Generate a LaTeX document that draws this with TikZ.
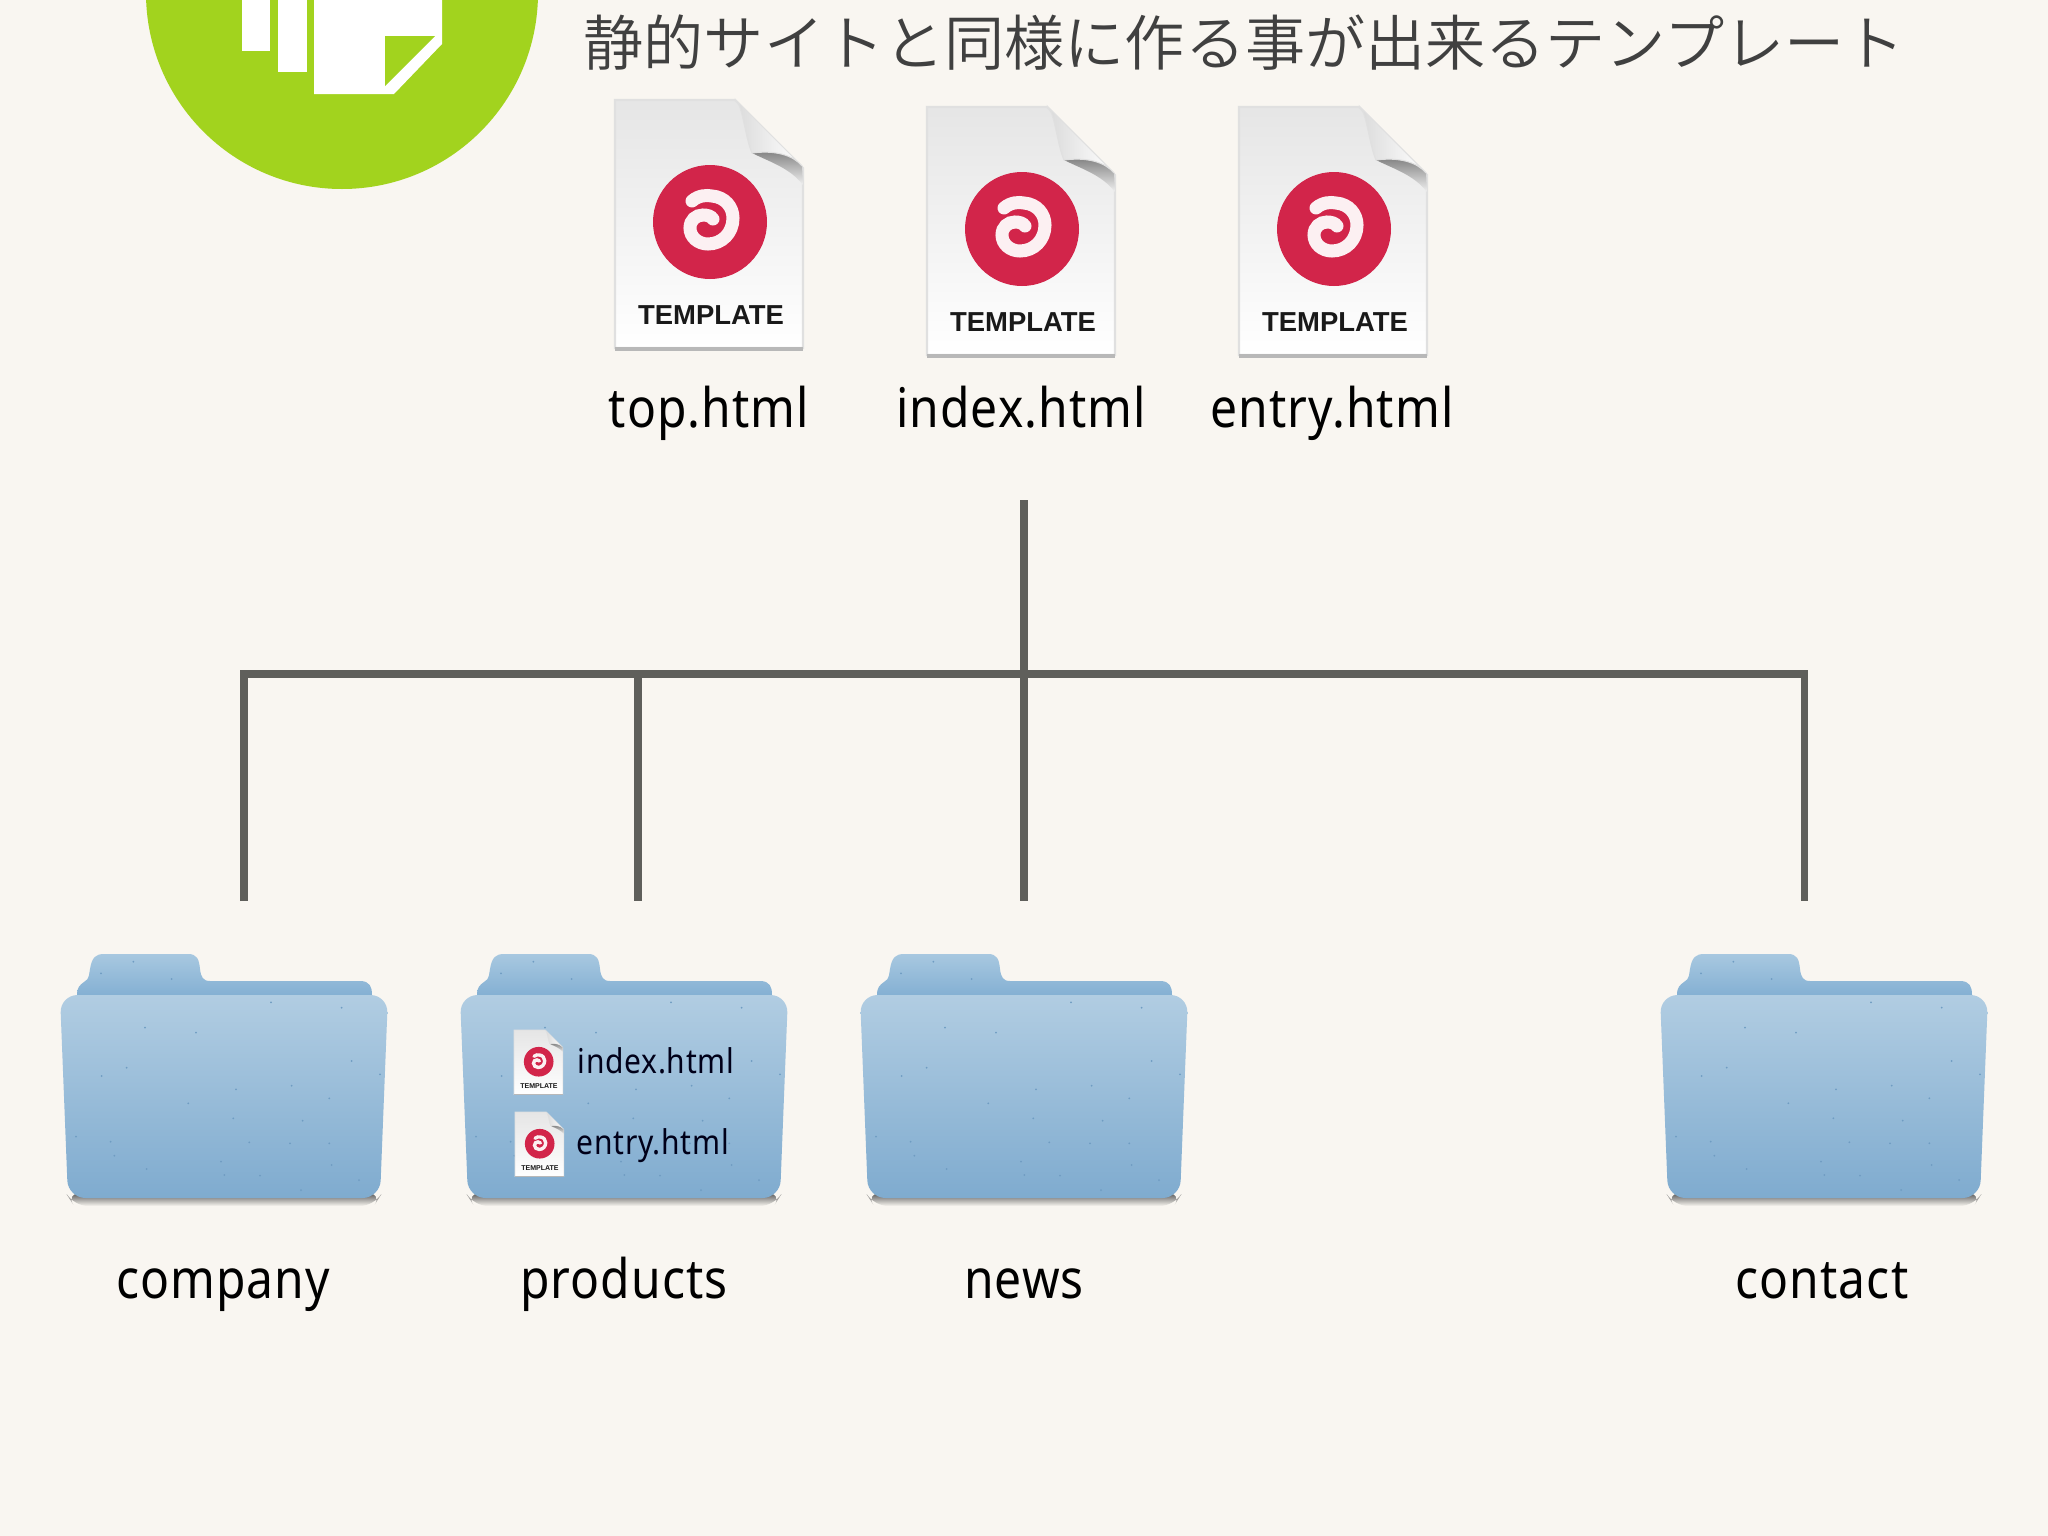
\documentclass[tikz,border=0pt]{standalone}
\usepackage{fontspec}
\usepackage{tikz}
\newfontfamily\jpfont{Noto Sans CJK JP DemiLight}
\newfontfamily\capfont{Liberation Sans}
\setmainfont{Noto Sans}[FakeStretch=0.88,LetterSpace=2]
\definecolor{paper}{HTML}{F9F6F1}
\definecolor{leaf}{HTML}{A2D31E}
\definecolor{bar}{HTML}{5F5F5B}
\definecolor{caprd}{HTML}{D2254A}
\definecolor{folderback}{HTML}{A8C8E0}
\definecolor{folderbacklow}{HTML}{84B0D3}
\definecolor{foldertop}{HTML}{B1CDE2}
\definecolor{foldermid}{HTML}{A6C6DE}
\definecolor{folderlow}{HTML}{7FABCF}
\definecolor{folderdot}{HTML}{6F9CC2}
\def\backpiece{(17,0) .. controls (17,-8) and (20,-10) .. (24,-13) .. controls (30,-16) and (29,-22) .. (30,-26) .. controls (32,-38) and (36,-41) .. (44,-41) -- (128,-41) .. controls (137,-41) and (139,-36) .. (140,-26) .. controls (141,-18) and (143,-14) .. (150,-14) -- (300,-14) .. controls (310,-14) and (312,-8) .. (312,0) -- cycle}
\def\frontpiece{(0,0) -- (328,0) -- (320,203) -- (8,203) -- cycle}
\def\pagepiece{(0,0) -- (120,0) -- (188,68) -- (188,248) -- (0,248) -- cycle}
\def\flappiece{(122,1) .. controls (128,10) and (131,40) .. (137,53) .. controls (160,50) and (178,55) .. (187,66) -- cycle}
\def\dimpiece{(137,53) .. controls (160,50) and (178,55) .. (187,66) -- (188,85) .. controls (175,68) and (155,62) .. (137,53)}
\def\swirlpiece{(77,101) .. controls (84,95) and (92,95) .. (97,96) .. controls (110,97) and (118,107) .. (118,118) .. controls (118,133) and (107,144) .. (93,144) .. controls (83,144) and (75,137) .. (75,128) .. controls (75,120) and (81,115) .. (88,115) .. controls (92,115) and (96,116) .. (98,119)}
\tikzset{
    treeline/.style={draw=bar,line width=2pt,miter limit=10},
    htmllabel/.style={anchor=base,text=black,font=\fontsize{15.5}{18}\selectfont,inner sep=0pt},
    minilabel/.style={anchor=base west,text=black!90!blue,font=\fontsize{9.7}{14}\selectfont,inner sep=0pt},
}
\newcommand{\folderat}[2]{
    \begin{scope}[shift={(#2,995)}]
        \shade[rounded corners=4,top color=black!65,bottom color=paper] (6,198) -- (322,198) -- (314,211) -- (14,211) -- cycle;
        \shade[top color=folderback,bottom color=folderbacklow] \backpiece;
        \shade[rounded corners=5,top color=foldertop,middle color=foldermid,bottom color=folderlow] \frontpiece;
        \foreach \spotx/\spoty in {183/130,395/147,280/95,693/217,905/233,935/393,1020/433,468/308,315/293,185/438,445/520,260/413,588/478,755/467,868/505,580/565,788/572,108/620,212/635,628/637,750/640,868/640,543/695,553/735,660/737,875/705,957/750,783/780,223/677,320/717}
            \fill[folderdot] ({\spotx/3-20},{\spoty/3-65}) circle (1);
    \end{scope}
}
\newcommand{\fileat}[5]{
    \begin{scope}[shift={(#2,#3)},scale=#4]
        \shade[top color=black!10,bottom color=white,draw=black!12,line width=#4*.6pt] \pagepiece;
        \draw[black!28,line width=#4*.9pt] (0,249) -- (188,249);
        \shade[top color=black!50,bottom color=black!6] \dimpiece;
        \shade[left color=black!14,right color=white,draw=black!12,line width=#4*.3pt] \flappiece;
        \fill[caprd] (95,122) circle (57);
        \draw[white!93!caprd,line width=#4*3.7pt,line cap=round] \swirlpiece;
        \node[inner sep=0pt,text=black!90,font=\capfont\fontsize{#5}{#5}\selectfont\bfseries] (#1) at (96,215) {TEMPLATE};
    \end{scope}
}
\begin{document}
\begin{tikzpicture}[x=0.01cm,y=-0.01cm]
    \path[use as bounding box,fill=paper] (0,0) rectangle (2048,1536);
    \clip (0,0) rectangle (2048,1536);
    \fill[leaf] (342,-7) circle (196);
    \fill[white] (242,0) rectangle (270,51);
    \fill[white] (278,0) rectangle (307,72);
    \fill[white] (314,0) -- (442,0) -- (442,44) -- (394,94) -- (314,94) -- cycle;
    \fill[leaf] (385,36) -- (435,36) -- (385,86) -- cycle;
    \node[anchor=west,inner sep=0pt,text=black!75,font=\jpfont\fontsize{17.1}{20}\selectfont] (title) at (583,43) {静的サイトと同様に作る事が出来るテンプレート};
    \fileat{topfile}{615}{100}{1}{7.8}
    \fileat{indexfile}{927}{107}{1}{7.8}
    \fileat{entryfile}{1239}{107}{1}{7.8}
    \node[htmllabel] (toplabel) at (709,427) {top.html};
    \node[htmllabel] (indexlabel) at (1021,427) {index.html};
    \node[htmllabel] (entrylabel) at (1332,427) {entry.html};
    \coordinate (trunk) at (1024,500);
    \coordinate (hub) at (1024,674);
    \coordinate (companytop) at (244,674);
    \coordinate (companyend) at (244,901);
    \coordinate (productstop) at (638,674);
    \coordinate (productsend) at (638,901);
    \coordinate (newsend) at (1024,901);
    \coordinate (contacttop) at (1804,674);
    \coordinate (contactend) at (1804,901);
    \draw[treeline] (trunk) -- (hub) -- (newsend);
    \draw[treeline] (companyend) -- (companytop) -- (contacttop) -- (contactend);
    \draw[treeline] (productstop) -- (productsend);
    \folderat{company}{60}
    \folderat{products}{460}
    \folderat{news}{860}
    \folderat{contact}{1660}
    \fileat{indexmini}{514}{1030}{.26}{2}
    \fileat{entrymini}{515}{1112}{.26}{2}
    \node[minilabel] (indexname) at (577,1073) {index.html};
    \node[minilabel] (entryname) at (576,1154) {entry.html};
    \node[htmllabel] (companylabel) at (223,1298) {company};
    \node[htmllabel] (productslabel) at (624,1298) {products};
    \node[htmllabel] (newslabel) at (1024,1298) {news};
    \node[htmllabel] (contactlabel) at (1822,1298) {contact};
\end{tikzpicture}
\end{document}
